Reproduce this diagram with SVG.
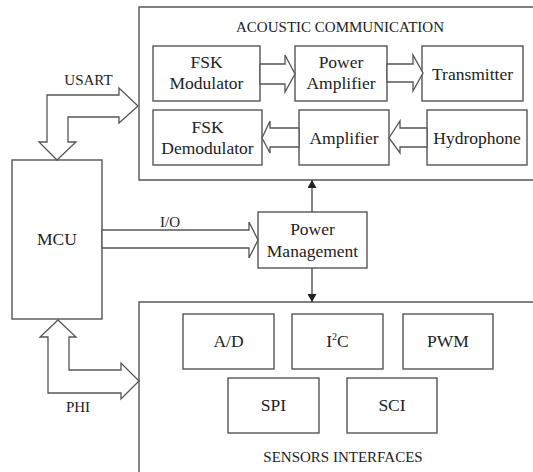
<svg xmlns="http://www.w3.org/2000/svg" width="533" height="472" viewBox="0 0 533 472">
<defs>
<style>
.box{fill:#fff;stroke:#555;stroke-width:1.4}
.frame{fill:none;stroke:#555;stroke-width:1.4}
.harrow{fill:#fff;stroke:#555;stroke-width:1.3;stroke-linejoin:miter}
.line{stroke:#444;stroke-width:1.3;fill:none}
text{font-family:"Liberation Serif","Times New Roman",serif;fill:#222;text-anchor:middle}
.t{font-size:17.5px}
.l{font-size:15px}
</style>
<marker id="ah" viewBox="0 0 8 9" refX="8" refY="4.5" markerWidth="8" markerHeight="9" markerUnits="userSpaceOnUse" orient="auto">
<path d="M0,0 L8,4.5 L0,9 Z" fill="#222"/>
</marker>
</defs>
<rect width="533" height="472" fill="#fff"/>

<g id="acoustic">
<path class="frame" d="M545,7 H139 V180 H545"/>
<text class="l" x="340" y="32">ACOUSTIC COMMUNICATION</text>
</g>
<g id="sensors">
<path class="frame" d="M545,302 H139 V480"/>
<text class="l" x="343" y="462">SENSORS INTERFACES</text>
</g>

<g id="fsk-mod"><rect class="box" x="153" y="46" width="107" height="55"/><text class="t" x="206.5" y="68">FSK</text><text class="t" x="206.5" y="89">Modulator</text></g>
<g id="power-amp"><rect class="box" x="295" y="46" width="92" height="55"/><text class="t" x="341" y="68">Power</text><text class="t" x="341" y="89">Amplifier</text></g>
<g id="transmitter"><rect class="box" x="422" y="46" width="101" height="55"/><text class="t" x="472.5" y="79.5">Transmitter</text></g>
<g id="fsk-demod"><rect class="box" x="153" y="110" width="109" height="55"/><text class="t" x="207.5" y="133">FSK</text><text class="t" x="207.5" y="154">Demodulator</text></g>
<g id="amplifier"><rect class="box" x="299" y="110" width="90" height="55"/><text class="t" x="344" y="143.5">Amplifier</text></g>
<g id="hydrophone"><rect class="box" x="427" y="110" width="100" height="55"/><text class="t" x="477" y="143.5">Hydrophone</text></g>

<g id="mcu"><rect class="box" x="12" y="160" width="90" height="159"/><text class="t" x="57" y="245">MCU</text></g>
<g id="power-mgmt"><rect class="box" x="258" y="212" width="109" height="56"/><text class="t" x="312.5" y="235">Power</text><text class="t" x="312.5" y="257">Management</text></g>

<g id="ad"><rect class="box" x="183" y="314" width="91" height="55"/><text class="t" x="228.5" y="347">A/D</text></g>
<g id="i2c"><rect class="box" x="292" y="314" width="91" height="55"/><text class="t" x="337.5" y="347">I<tspan font-size="10" dy="-7">2</tspan><tspan dy="7">C</tspan></text></g>
<g id="pwm"><rect class="box" x="403" y="314" width="90" height="55"/><text class="t" x="448" y="347">PWM</text></g>
<g id="spi"><rect class="box" x="228" y="378" width="91" height="55"/><text class="t" x="273.5" y="411">SPI</text></g>
<g id="sci"><rect class="box" x="347" y="378" width="90" height="55"/><text class="t" x="392" y="411">SCI</text></g>

<g id="connectors">
<polygon class="harrow" points="260,64 285,64 285,55 295,74 285,92 285,84 260,84"/>
<polygon class="harrow" points="387,64 413,64 413,55 423,73 413,91 413,82 387,82"/>
<polygon class="harrow" points="427,128 400,128 400,121 389,138 400,153 400,147 427,147"/>
<polygon class="harrow" points="299,128 270,128 270,121 262,138 270,153 270,147 299,147"/>
<polygon class="harrow" points="102,230 249,230 249,222 258,240 249,258 249,248 102,248"/>
<polygon class="harrow" points="57,160 76,142 68,142 68,117 119,117 119,123 138,106 119,88 119,95 47,95 47,142 39,142"/>
<polygon class="harrow" points="58,320 76,337 69,337 69,370 121,370 121,363 139,381 121,399 121,393 48,393 48,337 40,337"/>
<line class="line" x1="312" y1="212" x2="312" y2="180" marker-end="url(#ah)"/>
<line class="line" x1="312" y1="268" x2="312" y2="302" marker-end="url(#ah)"/>
<text class="l" x="88.5" y="85">USART</text>
<text class="l" x="78" y="412">PHI</text>
<text class="l" x="170" y="227">I/O</text>
</g>
</svg>
